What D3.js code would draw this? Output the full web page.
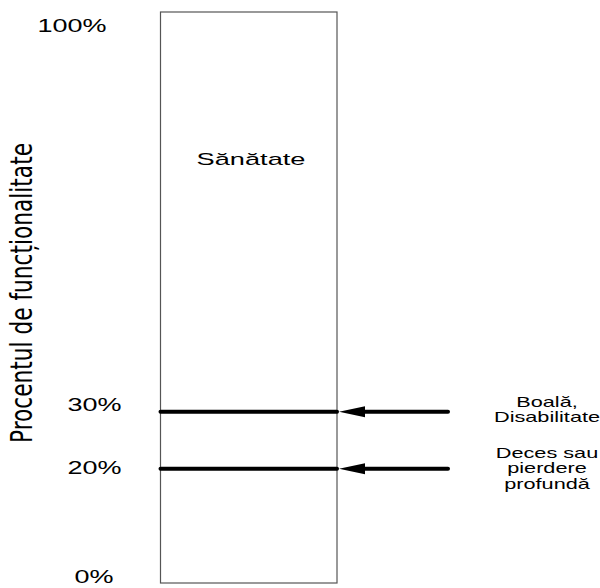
<!DOCTYPE html>
<html><head><meta charset="utf-8">
<script src="https://cdn.jsdelivr.net/npm/d3@7"></script>
<style>body{margin:0;background:#fff}</style>
</head><body>
<svg id="c" width="600" height="588"></svg>
<script>
const tickValues = [100, 30, 20, 0];
const tickLabels = ["100%", "30%", "20%", "0%"];
const thresholds = [30, 20];
const thresholdLabels = [["Boală,", "Disabilitate"], ["Deces sau", "pierdere", "profundă"]];
const regionLabel = "Sănătate";
const axisTitle = "Procentul de funcționalitate";

const svg = d3.select("#c");
const y = d3.scaleLinear().domain([0, 100]).range([583, 12]);
const x0 = 160.5, x1 = 337;
const SANS = "'Liberation Sans', Arial, Helvetica, sans-serif";
const STRETCH = 1.55;

// draws horizontally stretched text centred at cx with baseline by
function stretchedText(cx, by, txt, size, sx) {
  const g = svg.append("g").attr("transform", `translate(${cx},${by}) scale(${sx},1)`);
  g.append("text").attr("x", 0).attr("y", 0)
    .attr("text-anchor", "middle")
    .attr("font-family", SANS).attr("font-size", size).attr("fill", "#000")
    .text(txt);
  return g;
}

// box
svg.append("rect").attr("x", x0).attr("y", y(100)).attr("width", x1 - x0).attr("height", y(0) - y(100))
  .attr("fill", "none").attr("stroke", "#555").attr("stroke-width", 1.2);

// tick labels
const tickLayout = {"100%": {x: 72, dy: 20}, "30%": {x: 94.5, dy: -1}, "20%": {x: 94.5, dy: 5}, "0%": {x: 94, dy: 0}};
tickValues.forEach((d, i) => {
  const L = tickLayout[tickLabels[i]];
  stretchedText(L.x, y(d) + L.dy, tickLabels[i], 18, 1.5);
});

// axis title
svg.append("text")
  .attr("transform", `translate(32,${293}) rotate(-90)`)
  .attr("text-anchor", "middle")
  .attr("font-family", "'Liberation Sans Narrow', 'DejaVu Sans Condensed', 'Arial Narrow', sans-serif")
  .attr("font-size", 30).attr("fill", "#000")
  .attr("textLength", 300).attr("lengthAdjust", "spacingAndGlyphs")
  .text(axisTitle);

// region label
stretchedText(251, 165, regionLabel, 17, 1.6);

// threshold lines
svg.selectAll("line.th").data(thresholds).join("line")
  .attr("class", "th")
  .attr("x1", x0).attr("x2", x1)
  .attr("y1", d => y(d)).attr("y2", d => y(d))
  .attr("stroke", "#000").attr("stroke-width", 4).attr("stroke-linecap", "round");

// arrows
svg.selectAll("line.ar").data(thresholds).join("line")
  .attr("class", "ar")
  .attr("x1", 448).attr("x2", 360)
  .attr("y1", d => y(d)).attr("y2", d => y(d))
  .attr("stroke", "#000").attr("stroke-width", 4).attr("stroke-linecap", "round");
svg.selectAll("path.ah").data(thresholds).join("path")
  .attr("class", "ah")
  .attr("d", d => `M339,${y(d)} L365,${y(d) - 5.5} L365,${y(d) + 5.5} Z`)
  .attr("fill", "#000");

// threshold labels
const labelTop = {0: -4.7, 1: -11};
const labelStep = {0: 15, 1: 15.5};
thresholdLabels.forEach((lines, i) => {
  lines.forEach((l, j) => {
    stretchedText(547, y(thresholds[i]) + labelTop[i] + j * labelStep[i], l, 14, STRETCH);
  });
});
</script>
</body></html>
